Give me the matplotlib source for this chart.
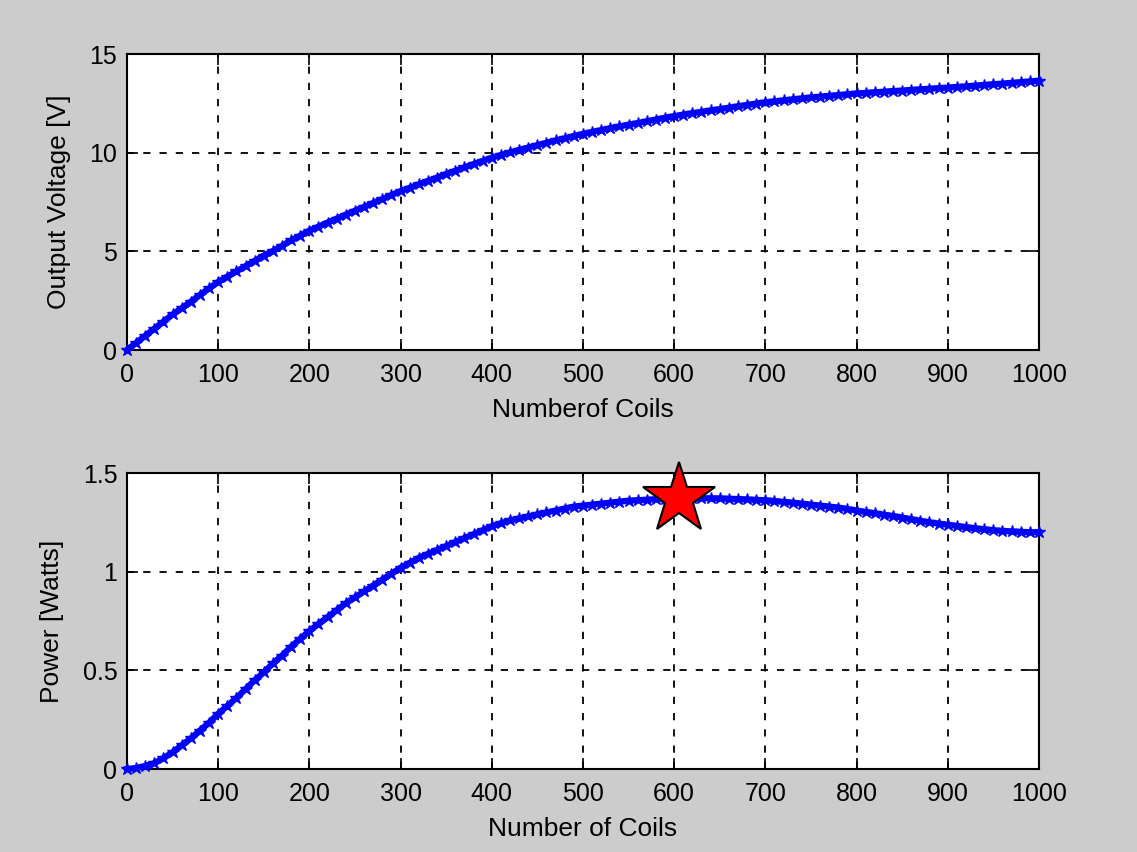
import matplotlib
matplotlib.use("Agg")
import matplotlib.pyplot as plt

plt.rcParams['font.family'] = ['Liberation Sans', 'DejaVu Sans']

coils = list(range(0, 1001, 10))

voltage = [
    0.0, 0.36, 0.72, 1.08, 1.44, 1.8, 2.12, 2.45, 2.8, 3.12,
    3.45, 3.72, 3.98, 4.25, 4.52, 4.78, 5.02, 5.28, 5.55, 5.8,
    6.05, 6.25, 6.46, 6.66, 6.86, 7.06, 7.25, 7.45, 7.65, 7.85,
    8.05, 8.22, 8.4, 8.57, 8.74, 8.92, 9.08, 9.25, 9.42, 9.58,
    9.75, 9.88, 10.01, 10.14, 10.26, 10.38, 10.5, 10.62, 10.73, 10.84,
    10.95, 11.05, 11.14, 11.24, 11.33, 11.42, 11.5, 11.59, 11.68, 11.77,
    11.85, 11.93, 12.0, 12.07, 12.14, 12.21, 12.28, 12.35, 12.42, 12.49,
    12.55, 12.6, 12.65, 12.7, 12.75, 12.8, 12.84, 12.88, 12.92, 12.96,
    13.0, 13.03, 13.06, 13.09, 13.12, 13.15, 13.18, 13.21, 13.24, 13.27,
    13.3, 13.33, 13.36, 13.4, 13.43, 13.47, 13.5, 13.54, 13.57, 13.61,
    13.65,
]

power = [
    0.0, 0.005, 0.015, 0.03, 0.055, 0.085, 0.12, 0.155, 0.195, 0.235,
    0.28, 0.32, 0.36, 0.405, 0.45, 0.49, 0.535, 0.575, 0.62, 0.66,
    0.70, 0.735, 0.77, 0.805, 0.84, 0.87, 0.90, 0.93, 0.96, 0.99,
    1.02, 1.045, 1.07, 1.09, 1.11, 1.13, 1.15, 1.17, 1.19, 1.21,
    1.23, 1.245, 1.26, 1.27, 1.28, 1.29, 1.30, 1.31, 1.32, 1.33,
    1.335, 1.34, 1.345, 1.35, 1.355, 1.36, 1.362, 1.365, 1.367, 1.369,
    1.37, 1.371, 1.372, 1.372, 1.372, 1.371, 1.37, 1.368, 1.366, 1.364,
    1.362, 1.358, 1.354, 1.35, 1.345, 1.34, 1.335, 1.33, 1.325, 1.318,
    1.31, 1.303, 1.296, 1.289, 1.282, 1.274, 1.266, 1.258, 1.25, 1.244,
    1.238, 1.232, 1.226, 1.22, 1.215, 1.21, 1.207, 1.204, 1.202, 1.2,
    1.2,
]

peak_coils = 605
peak_power = 1.37

x_ticks = list(range(0, 1001, 100))
v_ticks = [0, 5, 10, 15]
p_ticks = [0, 0.5, 1, 1.5]
p_tick_labels = ['0', '0.5', '1', '1.5']

fig = plt.figure(figsize=(11.37, 8.52), dpi=100, facecolor='#cccccc')
ax1 = fig.add_axes([0.1117, 0.5892, 0.802, 0.3474])
ax2 = fig.add_axes([0.1117, 0.0974, 0.802, 0.3474])

TICK_FS = 18
LABEL_FS = 19

def style(ax):
    ax.set_facecolor('white')
    ax.set_xlim(0, 1000)
    ax.set_xticks(x_ticks)
    ax.grid(True, color='black', linestyle=(0, (4, 5)), linewidth=1.3)
    ax.tick_params(direction='in', length=8, width=1.2, top=True, right=True,
                   labelsize=TICK_FS, colors='black')
    ax.tick_params(axis='x', pad=9)
    ax.tick_params(axis='y', pad=7)
    for s in ax.spines.values():
        s.set_linewidth(1.5)
        s.set_color('black')

def draw_series(ax, y):
    ax.plot(coils, y, color='#0000ff', linewidth=4.5, marker='*',
            markersize=9, clip_on=False, zorder=3)

draw_series(ax1, voltage)
style(ax1)
ax1.set_ylim(0, 15)
ax1.set_yticks(v_ticks)
ax1.set_xlabel('Numberof Coils', fontsize=LABEL_FS, labelpad=8)
ax1.set_ylabel('Output Voltage [V]', fontsize=LABEL_FS, labelpad=13)

draw_series(ax2, power)
ax2.plot([peak_coils], [peak_power], marker='*', markersize=54,
         markerfacecolor='red', markeredgecolor='black', markeredgewidth=1.5,
         linestyle='none', clip_on=False, zorder=4)
style(ax2)
ax2.set_ylim(0, 1.5)
ax2.set_yticks(p_ticks)
ax2.set_yticklabels(p_tick_labels)
ax2.set_xlabel('Number of Coils', fontsize=LABEL_FS, labelpad=8)
ax2.set_ylabel('Power [Watts]', fontsize=LABEL_FS, labelpad=13)

fig.savefig('out.png', dpi=100, facecolor=fig.get_facecolor())
